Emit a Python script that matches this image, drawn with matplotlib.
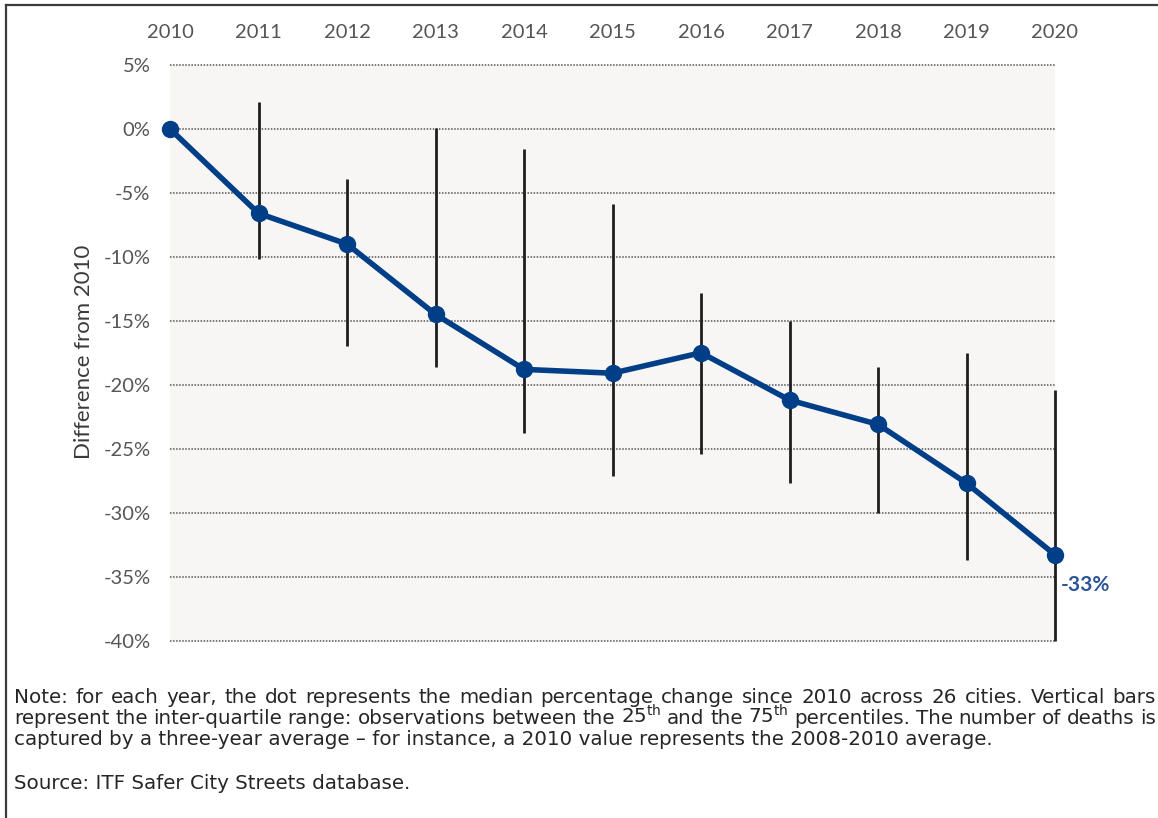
import matplotlib
matplotlib.use("Agg")
import matplotlib.pyplot as plt
from matplotlib.lines import Line2D

# median change in road deaths since 2010 (%), with inter-quartile range
years = [2010, 2011, 2012, 2013, 2014, 2015, 2016, 2017, 2018, 2019, 2020]
median = [0.0, -6.6, -9.0, -14.5, -18.8, -19.1, -17.5, -21.2, -23.1, -27.7, -33.3]
q75 = [0.0, 2.1, -3.9, 0.1, -1.6, -5.9, -12.8, -15.0, -18.6, -17.5, -20.4]
q25 = [0.0, -10.2, -17.0, -18.6, -23.8, -27.1, -25.4, -27.7, -30.0, -33.7, -40.0]
yticks = [5, 0, -5, -10, -15, -20, -25, -30, -35, -40]

note_lines = [
    "Note: for each year, the dot represents the median percentage change since 2010 across 26 cities. Vertical bars",
    "represent the inter-quartile range: observations between the 25$^{\\mathrm{th}}$ and the 75$^{\\mathrm{th}}$ percentiles. The number of deaths is",
    "captured by a three-year average \u2013 for instance, a 2010 value represents the 2008-2010 average.",
]
source = "Source: ITF Safer City Streets database."

W, H = 1158, 818
fig = plt.figure(figsize=(W / 100, H / 100), dpi=100)
fig.patch.set_facecolor("white")

ax = fig.add_axes([170 / W, 1 - 640.5 / H, 885 / W, 575.5 / H])
ax.set_facecolor("#f7f6f5")
ax.set_xlim(2010, 2020)
ax.set_ylim(-40, 5)

for s in ax.spines.values():
    s.set_visible(False)

ax.set_yticks(yticks)
ax.set_yticklabels([f"{v}%" for v in yticks])
ax.set_xticks(years)
ax.set_xticklabels([str(y) for y in years])
ax.xaxis.tick_top()
ax.tick_params(axis="x", length=0, pad=17, labelsize=14.5, labelcolor="#555555")
ax.tick_params(axis="y", length=0, pad=14, labelsize=14.5, labelcolor="#555555")
for lab in ax.get_xticklabels() + ax.get_yticklabels():
    lab.set_family("Lato")

ax.yaxis.grid(True, linestyle=(0, (1, 1)), color="#555555", linewidth=1.1)
ax.xaxis.grid(False)
ax.set_axisbelow(True)
for gl in ax.yaxis.get_gridlines():
    gl.set_clip_on(False)

# inter-quartile bars
ax.vlines(years[1:], q25[1:], q75[1:], color="#1e1e1e", linewidth=2, zorder=2, clip_on=False)

# median line
ax.plot(years, median, color="#003f88", linewidth=4, marker="o", markersize=11.5,
        zorder=3, clip_on=False)

ax.annotate(f"{round(median[-1])}%", xy=(years[-1], median[-1]), xytext=(4, -22),
            textcoords="offset points", ha="left", va="center",
            fontsize=15, fontweight="bold", color="#2a5596", family="Lato")

fig.text(84 / W, 1 - 352 / H, "Difference from 2010", rotation=90, ha="center", va="center",
         fontsize=16, color="#3a3a3a", family="Lato")

# frame lines at top and left
fig.add_artist(Line2D([6 / W, 1], [1 - 5 / H, 1 - 5 / H], transform=fig.transFigure,
                      color="#3c3c3c", linewidth=1.6))
fig.add_artist(Line2D([6 / W, 6 / W], [0, 1 - 5 / H], transform=fig.transFigure,
                      color="#3c3c3c", linewidth=1.6))

# justified note text
renderer = fig.canvas.get_renderer()
x0, x1 = 14, 1156
note_kw = dict(fontsize=14.3, color="#262626", family="DejaVu Sans", va="baseline", ha="left")
baselines = [703, 724, 745]
for i, line in enumerate(note_lines):
    yb = 1 - baselines[i] / H
    if i == len(note_lines) - 1:
        fig.text(x0 / W, yb, line, **note_kw)
        continue
    words = line.split(" ")
    widths = []
    for w in words:
        t = fig.text(0, 0, w, **note_kw)
        widths.append(t.get_window_extent(renderer).width)
        t.remove()
    gap = (x1 - x0 - sum(widths)) / (len(words) - 1)
    x = x0
    for w, wd in zip(words, widths):
        fig.text(x / W, yb, w, **note_kw)
        x += wd + gap

fig.text(x0 / W, 1 - 789 / H, source, **note_kw)

fig.savefig("out.png", dpi=100)
